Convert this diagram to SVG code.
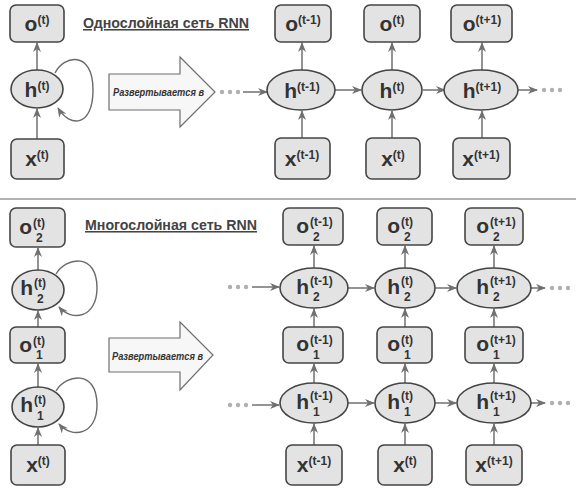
<svg xmlns="http://www.w3.org/2000/svg" width="584" height="494" viewBox="0 0 584 494">
<defs>
<marker id="ah" markerWidth="10" markerHeight="8" refX="9" refY="4" orient="auto" markerUnits="userSpaceOnUse">
<path d="M0,0 L10,4 L0,8 L3,4 z" fill="#707070"/>
</marker>
<style>
.box{fill:#e3e3e3;stroke:#454545;stroke-width:1.6}
.ell{fill:#e3e3e3;stroke:#454545;stroke-width:1.6}
.ln{fill:none;stroke:#707070;stroke-width:1.5;marker-end:url(#ah)}
.lp{fill:none;stroke:#6a6a6a;stroke-width:1.4;marker-end:url(#ah)}
.t{font-family:"Liberation Sans",Arial,sans-serif;font-weight:bold;font-size:21px;fill:#333}
.s{font-size:12px}
.sb{font-family:"Liberation Sans",Arial,sans-serif;font-weight:bold;font-size:12px;fill:#333}
.ttl{font-family:"Liberation Sans",Arial,sans-serif;font-weight:bold;font-size:15.5px;fill:#444;text-decoration:underline}
.big{fill:#f7f7f7;stroke:#6f6f6f;stroke-width:1.2}
.bt{font-family:"Liberation Sans",Arial,sans-serif;font-weight:bold;font-style:italic;font-size:11.5px;fill:#333}
.dot{fill:#b0b0b0}
</style>
</defs>

<!-- separator -->
<line x1="0" y1="199" x2="576" y2="199" stroke="#9a9a9a" stroke-width="1.5"/>

<!-- titles -->
<text class="ttl" x="83" y="28" textLength="166" lengthAdjust="spacingAndGlyphs">Однослойная сеть RNN</text>
<text class="ttl" x="85" y="230" textLength="172" lengthAdjust="spacingAndGlyphs">Многослойная сеть RNN</text>

<!-- big arrows -->
<g id="unroll1">
<polygon class="big" points="109,74 180,74 180,57 215,92 180,127 180,110 109,110"/>
<text class="bt" x="113" y="96" textLength="91" lengthAdjust="spacingAndGlyphs">Развертывается в</text>
</g>
<g id="unroll2">
<polygon class="big" points="109,338 180,338 180,322 213,355 180,390 180,372 109,372"/>
<text class="bt" x="112" y="360" textLength="91" lengthAdjust="spacingAndGlyphs">Развертывается в</text>
</g>

<!-- connectors -->
<g id="connectors">
<!-- top left -->
<line class="ln" x1="37" y1="139" x2="37" y2="109"/>
<line class="ln" x1="37" y1="70" x2="37" y2="43"/>
<path class="lp" d="M55,73 C64,55 93,50 93,90 C93,127 70,128 58,108"/>
<!-- top unrolled -->
<circle class="dot" cx="222" cy="92" r="2.2"/><circle class="dot" cx="230" cy="92" r="2.2"/><circle class="dot" cx="238" cy="92" r="2.2"/>
<line class="ln" x1="243" y1="92" x2="267" y2="92"/>
<line class="ln" x1="335" y1="90" x2="361" y2="90"/>
<line class="ln" x1="423" y1="90" x2="445" y2="90"/>
<line class="ln" x1="518" y1="90" x2="537" y2="90"/>
<circle class="dot" cx="544" cy="90" r="2.2"/><circle class="dot" cx="552" cy="90" r="2.2"/><circle class="dot" cx="560" cy="90" r="2.2"/>
<line class="ln" x1="302" y1="138" x2="302" y2="111"/>
<line class="ln" x1="302" y1="70" x2="302" y2="43"/>
<line class="ln" x1="392" y1="138" x2="392" y2="111"/>
<line class="ln" x1="392" y1="70" x2="392" y2="43"/>
<line class="ln" x1="482" y1="138" x2="482" y2="111"/>
<line class="ln" x1="482" y1="70" x2="482" y2="43"/>

<!-- bottom left -->
<line class="ln" x1="38" y1="445" x2="38" y2="428"/>
<line class="ln" x1="38" y1="387" x2="38" y2="364"/>
<line class="ln" x1="38" y1="327" x2="38" y2="311"/>
<line class="ln" x1="38" y1="270" x2="38" y2="248"/>
<path class="lp" d="M56,274 C66,257 97,252 97,288 C97,318 72,322 59,307"/>
<path class="lp" d="M56,391 C66,374 97,369 97,405 C97,435 72,439 59,424"/>

<!-- bottom unrolled -->
<circle class="dot" cx="230" cy="287" r="2.2"/><circle class="dot" cx="238" cy="287" r="2.2"/><circle class="dot" cx="246" cy="287" r="2.2"/>
<line class="ln" x1="252" y1="287" x2="279" y2="287"/>
<circle class="dot" cx="230" cy="405" r="2.2"/><circle class="dot" cx="238" cy="405" r="2.2"/><circle class="dot" cx="246" cy="405" r="2.2"/>
<line class="ln" x1="252" y1="405" x2="279" y2="405"/>
<line class="ln" x1="348" y1="288" x2="374" y2="288"/>
<line class="ln" x1="435" y1="288" x2="456" y2="288"/>
<line class="ln" x1="531" y1="288" x2="545" y2="288"/>
<circle class="dot" cx="552" cy="288" r="2.2"/><circle class="dot" cx="560" cy="288" r="2.2"/><circle class="dot" cx="568" cy="288" r="2.2"/>
<line class="ln" x1="348" y1="403" x2="374" y2="403"/>
<line class="ln" x1="435" y1="403" x2="456" y2="403"/>
<line class="ln" x1="531" y1="403" x2="545" y2="403"/>
<circle class="dot" cx="552" cy="403" r="2.2"/><circle class="dot" cx="560" cy="403" r="2.2"/><circle class="dot" cx="568" cy="403" r="2.2"/>

<line class="ln" x1="314" y1="445" x2="314" y2="424"/>
<line class="ln" x1="314" y1="383" x2="314" y2="364"/>
<line class="ln" x1="314" y1="327" x2="314" y2="309"/>
<line class="ln" x1="314" y1="268" x2="314" y2="246"/>
<line class="ln" x1="405" y1="445" x2="405" y2="424"/>
<line class="ln" x1="405" y1="383" x2="405" y2="364"/>
<line class="ln" x1="405" y1="327" x2="405" y2="309"/>
<line class="ln" x1="405" y1="268" x2="405" y2="246"/>
<line class="ln" x1="494" y1="445" x2="494" y2="424"/>
<line class="ln" x1="494" y1="383" x2="494" y2="364"/>
<line class="ln" x1="494" y1="327" x2="494" y2="309"/>
<line class="ln" x1="494" y1="268" x2="494" y2="246"/>
</g>

<!-- TOP LEFT -->
<g id="o_t"><rect class="box" x="10" y="5" width="54" height="37" rx="6"/><text class="t" x="37" y="31" text-anchor="middle">o<tspan class="s" dy="-7">(t)</tspan></text></g>
<g id="h_t"><ellipse class="ell" cx="37" cy="89" rx="26" ry="19"/><text class="t" x="37" y="97" text-anchor="middle">h<tspan class="s" dy="-7">(t)</tspan></text></g>
<g id="x_t"><rect class="box" x="11" y="139" width="53" height="40" rx="6"/><text class="t" x="37" y="166" text-anchor="middle">x<tspan class="s" dy="-7">(t)</tspan></text></g>

<!-- TOP UNROLLED -->
<g id="o_tm1"><rect class="box" x="275" y="5" width="56" height="37" rx="6"/><text class="t" x="303" y="31" text-anchor="middle">o<tspan class="s" dy="-7">(t-1)</tspan></text></g>
<g id="o_t0"><rect class="box" x="364" y="5" width="56" height="37" rx="6"/><text class="t" x="392" y="31" text-anchor="middle">o<tspan class="s" dy="-7">(t)</tspan></text></g>
<g id="o_tp1"><rect class="box" x="451" y="5" width="61" height="37" rx="6"/><text class="t" x="482" y="31" text-anchor="middle">o<tspan class="s" dy="-7">(t+1)</tspan></text></g>
<g id="h_tm1"><ellipse class="ell" cx="301" cy="90" rx="34" ry="20"/><text class="t" x="302" y="98" text-anchor="middle">h<tspan class="s" dy="-7">(t-1)</tspan></text></g>
<g id="h_t0"><ellipse class="ell" cx="392" cy="90" rx="30" ry="20"/><text class="t" x="392" y="98" text-anchor="middle">h<tspan class="s" dy="-7">(t)</tspan></text></g>
<g id="h_tp1"><ellipse class="ell" cx="481" cy="90" rx="37" ry="20"/><text class="t" x="482" y="98" text-anchor="middle">h<tspan class="s" dy="-7">(t+1)</tspan></text></g>
<g id="x_tm1"><rect class="box" x="275" y="138" width="55" height="41" rx="6"/><text class="t" x="302" y="166" text-anchor="middle">x<tspan class="s" dy="-7">(t-1)</tspan></text></g>
<g id="x_t0"><rect class="box" x="366" y="138" width="54" height="41" rx="6"/><text class="t" x="393" y="166" text-anchor="middle">x<tspan class="s" dy="-7">(t)</tspan></text></g>
<g id="x_tp1"><rect class="box" x="453" y="138" width="57" height="41" rx="6"/><text class="t" x="481" y="166" text-anchor="middle">x<tspan class="s" dy="-7">(t+1)</tspan></text></g>

<!-- BOTTOM LEFT -->
<g id="o2_t"><rect class="box" x="10" y="208" width="55" height="39" rx="6"/><text class="t" x="32" y="234" text-anchor="end">o</text><text class="sb" x="33" y="227">(t)</text><text class="sb" x="36" y="242">2</text></g>
<g id="h2_t"><ellipse class="ell" cx="38" cy="290" rx="26" ry="20"/><text class="t" x="33" y="295" text-anchor="end">h</text><text class="sb" x="34" y="287">(t)</text><text class="sb" x="37" y="303">2</text></g>
<g id="o1_t"><rect class="box" x="10" y="327" width="55" height="36" rx="6"/><text class="t" x="32" y="352" text-anchor="end">o</text><text class="sb" x="33" y="345">(t)</text><text class="sb" x="36" y="359">1</text></g>
<g id="h1_t"><ellipse class="ell" cx="38" cy="407" rx="26" ry="20"/><text class="t" x="33" y="412" text-anchor="end">h</text><text class="sb" x="34" y="404">(t)</text><text class="sb" x="37" y="420">1</text></g>
<g id="x_tb"><rect class="box" x="11" y="445" width="54" height="40" rx="6"/><text class="t" x="38" y="472" text-anchor="middle">x<tspan class="s" dy="-7">(t)</tspan></text></g>

<!-- BOTTOM UNROLLED -->
<g id="o2_tm1"><rect class="box" x="283" y="208" width="60" height="37" rx="6"/><text class="t" x="309" y="233" text-anchor="end">o</text><text class="sb" x="310" y="226">(t-1)</text><text class="sb" x="313" y="241">2</text></g>
<g id="o2_t0"><rect class="box" x="377" y="208" width="55" height="37" rx="6"/><text class="t" x="400" y="233" text-anchor="end">o</text><text class="sb" x="401" y="226">(t)</text><text class="sb" x="404" y="241">2</text></g>
<g id="o2_tp1"><rect class="box" x="465" y="208" width="58" height="37" rx="6"/><text class="t" x="489" y="233" text-anchor="end">o</text><text class="sb" x="490" y="226">(t+1)</text><text class="sb" x="493" y="241">2</text></g>

<g id="h2_tm1"><ellipse class="ell" cx="314" cy="288" rx="34" ry="20"/><text class="t" x="309" y="294" text-anchor="end">h</text><text class="sb" x="310" y="285">(t-1)</text><text class="sb" x="313" y="301">2</text></g>
<g id="h2_t0"><ellipse class="ell" cx="405" cy="288" rx="30" ry="20"/><text class="t" x="400" y="294" text-anchor="end">h</text><text class="sb" x="401" y="285">(t)</text><text class="sb" x="404" y="301">2</text></g>
<g id="h2_tp1"><ellipse class="ell" cx="494" cy="288" rx="37" ry="20"/><text class="t" x="489" y="294" text-anchor="end">h</text><text class="sb" x="490" y="285">(t+1)</text><text class="sb" x="493" y="301">2</text></g>

<g id="o1_tm1"><rect class="box" x="283" y="327" width="60" height="36" rx="6"/><text class="t" x="309" y="351" text-anchor="end">o</text><text class="sb" x="310" y="344">(t-1)</text><text class="sb" x="313" y="359">1</text></g>
<g id="o1_t0"><rect class="box" x="377" y="327" width="55" height="36" rx="6"/><text class="t" x="400" y="351" text-anchor="end">o</text><text class="sb" x="401" y="344">(t)</text><text class="sb" x="404" y="359">1</text></g>
<g id="o1_tp1"><rect class="box" x="465" y="327" width="58" height="36" rx="6"/><text class="t" x="489" y="351" text-anchor="end">o</text><text class="sb" x="490" y="344">(t+1)</text><text class="sb" x="493" y="359">1</text></g>

<g id="h1_tm1"><ellipse class="ell" cx="314" cy="403" rx="34" ry="20"/><text class="t" x="309" y="409" text-anchor="end">h</text><text class="sb" x="310" y="400">(t-1)</text><text class="sb" x="313" y="416">1</text></g>
<g id="h1_t0"><ellipse class="ell" cx="405" cy="403" rx="30" ry="20"/><text class="t" x="400" y="409" text-anchor="end">h</text><text class="sb" x="401" y="400">(t)</text><text class="sb" x="404" y="416">1</text></g>
<g id="h1_tp1"><ellipse class="ell" cx="494" cy="403" rx="37" ry="20"/><text class="t" x="489" y="409" text-anchor="end">h</text><text class="sb" x="490" y="400">(t+1)</text><text class="sb" x="493" y="416">1</text></g>

<g id="xb_tm1"><rect class="box" x="286" y="445" width="56" height="40" rx="6"/><text class="t" x="314" y="472" text-anchor="middle">x<tspan class="s" dy="-7">(t-1)</tspan></text></g>
<g id="xb_t0"><rect class="box" x="378" y="445" width="54" height="40" rx="6"/><text class="t" x="405" y="472" text-anchor="middle">x<tspan class="s" dy="-7">(t)</tspan></text></g>
<g id="xb_tp1"><rect class="box" x="466" y="445" width="56" height="40" rx="6"/><text class="t" x="494" y="472" text-anchor="middle">x<tspan class="s" dy="-7">(t+1)</tspan></text></g>
</svg>
